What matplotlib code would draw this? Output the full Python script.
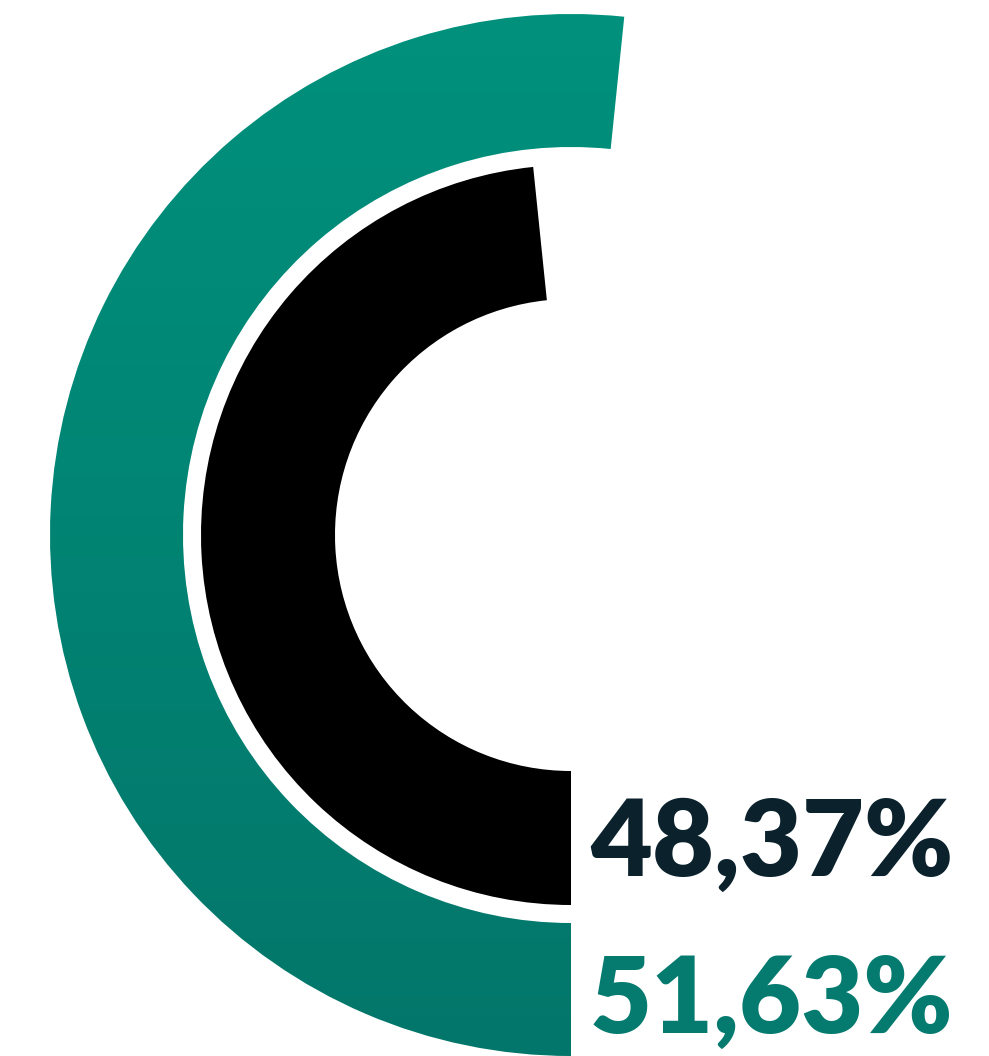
import numpy as np
import matplotlib
matplotlib.use("Agg")
import matplotlib.pyplot as plt
from matplotlib.patches import Wedge
from matplotlib.colors import LinearSegmentedColormap

# data
labels = ["48,37%", "51,63%"]
values = [48.37, 51.63]          # inner ring, outer ring
colors = ["#000000", "#00917c"]
text_colors = ["#0b222d", "#057b6f"]

W, H = 989, 1056
fig = plt.figure(figsize=(W / 100, H / 100), dpi=100)
ax = fig.add_axes([0, 0, 1, 1])
ax.set_xlim(0, W)
ax.set_ylim(0, H)
ax.set_aspect("equal")
ax.axis("off")

cx, cy = 571, H - 535
rings = [(370, 134), (521, 133)]   # (outer radius, width) for inner / outer

for i, (val, (r, w)) in enumerate(zip(values, rings)):
    start = 270 - val / 100 * 360
    wedge = Wedge((cx, cy), r, start, 270, width=w, facecolor=colors[i],
                  edgecolor="none")
    ax.add_patch(wedge)
    if i == 1:
        # vertical gradient on the outer ring
        cmap = LinearSegmentedColormap.from_list("teal", ["#03766a", "#00917c"])
        grad = np.linspace(0, 1, 256).reshape(-1, 1)
        im = ax.imshow(grad, cmap=cmap, origin="lower", aspect="auto",
                       extent=[cx - r, cx + r, cy - r, cy + r], zorder=1)
        im.set_clip_path(wedge)
        wedge.set_facecolor("none")

# labels
ax.text(590, H - 876, labels[0], color=text_colors[0], fontsize=77,
        fontfamily="Lato", fontweight="heavy", ha="left", va="baseline")
ax.text(590, H - 1033, labels[1], color=text_colors[1], fontsize=77,
        fontfamily="Lato", fontweight="heavy", ha="left", va="baseline")

fig.savefig("out.png", dpi=100)
